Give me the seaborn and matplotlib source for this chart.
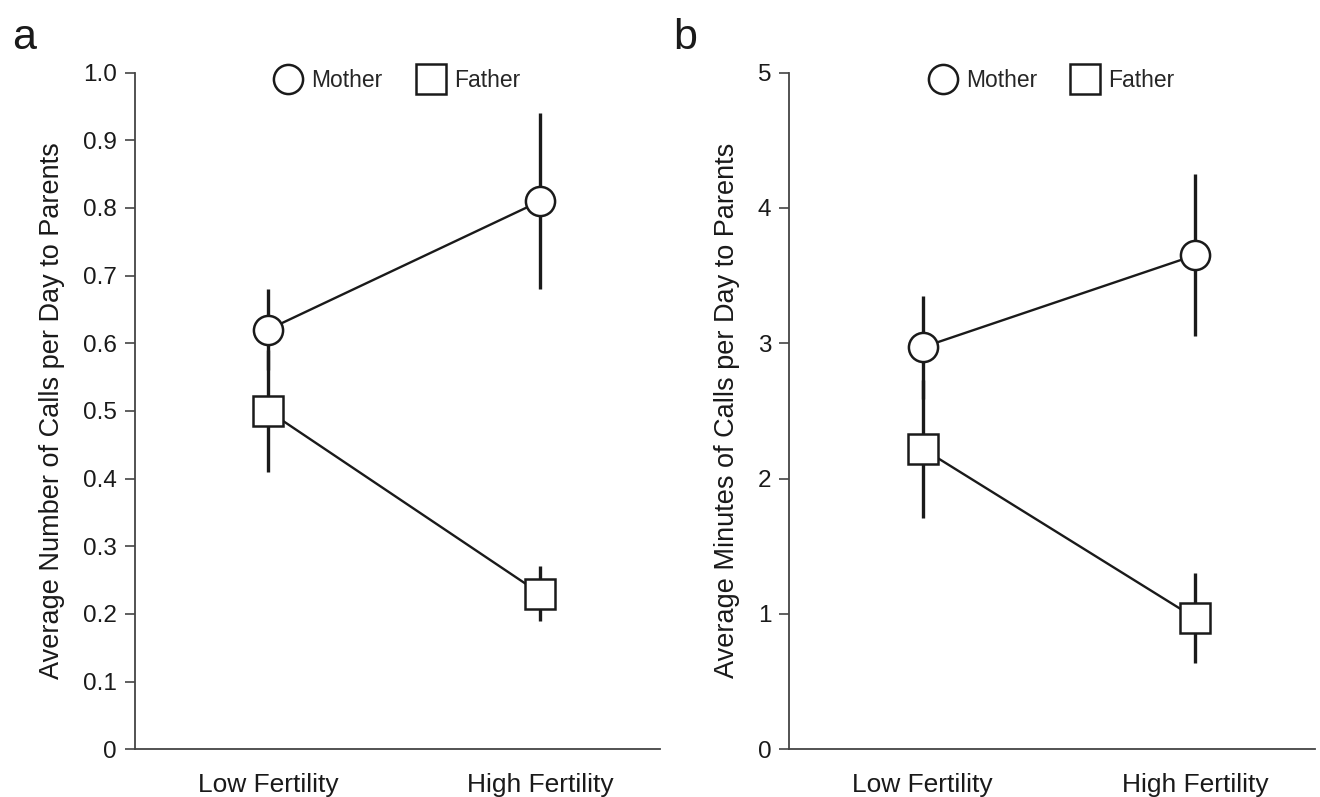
import numpy as np
import pandas as pd
import matplotlib
matplotlib.use("Agg")
import matplotlib.pyplot as plt
from matplotlib.lines import Line2D
import seaborn as sns

# summary values (mean and half-width of error bar)
fertility = ["Low Fertility", "High Fertility"]
parents = ["Mother", "Father"]

calls_mother = [0.62, 0.81]
calls_mother_err = [0.06, 0.13]
calls_father = [0.50, 0.23]
calls_father_err = [0.09, 0.04]

minutes_mother = [2.97, 3.65]
minutes_mother_err = [0.38, 0.60]
minutes_father = [2.22, 0.97]
minutes_father_err = [0.51, 0.33]

yticks_a = [0, 0.1, 0.2, 0.3, 0.4, 0.5, 0.6, 0.7, 0.8, 0.9, 1.0]
yticklabels_a = ["0", "0.1", "0.2", "0.3", "0.4", "0.5", "0.6", "0.7", "0.8", "0.9", "1.0"]
yticks_b = [0, 1, 2, 3, 4, 5]

sns.set_style("white")
plt.rcParams['font.family'] = ['Liberation Sans', 'DejaVu Sans']

markers = {"Mother": "o", "Father": "s"}
msize = {"Mother": 21, "Father": 21}
dark = "#1a1a1a"


def panel(ax, mother, mother_err, father, father_err, ylab, ylim, yticks, ytl):
    df = pd.DataFrame({
        "pos": [0, 1, 0, 1],
        "value": mother + father,
        "err": mother_err + father_err,
        "parent": ["Mother", "Mother", "Father", "Father"],
    })
    for p in parents:
        sub = df[df["parent"] == p]
        ax.errorbar(sub["pos"], sub["value"], yerr=sub["err"], fmt="none",
                    ecolor=dark, elinewidth=2.4, capsize=0, zorder=1)
        sns.lineplot(data=sub, x="pos", y="value", ax=ax, color=dark,
                     linewidth=1.7, marker=markers[p], markersize=msize[p],
                     markerfacecolor="white", markeredgecolor=dark,
                     markeredgewidth=1.8, zorder=3)
    ax.set_xlim(-0.49, 1.44)
    ax.set_ylim(*ylim)
    ax.set_yticks(yticks)
    ax.set_yticklabels(ytl)
    ax.set_xticks([0, 1])
    ax.set_xticklabels(fertility)
    ax.set_xlabel("")
    ax.set_ylabel(ylab, fontsize=19.5, color=dark, labelpad=13)
    for s in ["top", "right"]:
        ax.spines[s].set_visible(False)
    for s in ["left", "bottom"]:
        ax.spines[s].set_color("#444444")
        ax.spines[s].set_linewidth(1.3)
    ax.tick_params(axis="y", which="both", left=True, length=7, width=1.2,
                   color="#444444", labelsize=17.5, labelcolor=dark, pad=6)
    ax.tick_params(axis="x", length=0, labelsize=19, labelcolor=dark, pad=17)
    handles = [Line2D([], [], linestyle="none", marker=markers[p], markersize=msize[p],
                      markerfacecolor="white", markeredgecolor=dark,
                      markeredgewidth=1.8, label=p) for p in parents]
    ax.legend(handles=handles, loc="center", bbox_to_anchor=(0.5, 0.988), ncol=2,
              frameon=False, fontsize=16.5, handletextpad=0.4, columnspacing=1.5,
              handlelength=1.2)


fig = plt.figure(figsize=(13.2, 7.97), dpi=100)
ax1 = fig.add_axes([0.102, 0.060, 0.398, 0.849])
ax2 = fig.add_axes([0.598, 0.060, 0.398, 0.849])

panel(ax1, calls_mother, calls_mother_err, calls_father, calls_father_err,
      "Average Number of Calls per Day to Parents", (0, 1.0), yticks_a, yticklabels_a)
panel(ax2, minutes_mother, minutes_mother_err, minutes_father, minutes_father_err,
      "Average Minutes of Calls per Day to Parents", (0, 5), yticks_b,
      [str(t) for t in yticks_b])

fig.text(0.009, 0.978, "a", fontsize=31, va="top", ha="left", color=dark)
fig.text(0.510, 0.978, "b", fontsize=31, va="top", ha="left", color=dark)

fig.savefig("out.png", dpi=100)
